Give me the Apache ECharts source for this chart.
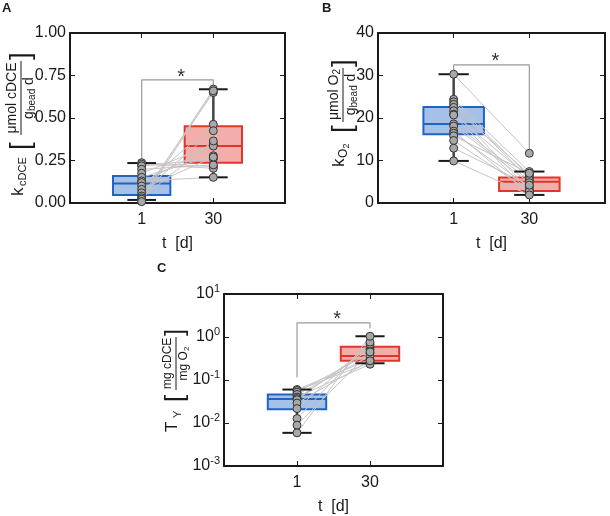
<!DOCTYPE html>
<html><head><meta charset="utf-8">
<script src="https://cdn.jsdelivr.net/npm/echarts@6/dist/echarts.min.js"></script>
<style>html,body{margin:0;padding:0;background:#fff}#c{width:610px;height:516px}</style>
</head><body><div id="c"></div>
<script>
// ---------- data ----------
const tickLabels = ['1', '30'];            // x categories at positions 1 and 2

// Panel A: k_cDCE
const aDay1  = [0.237, 0.228, 0.218, 0.198, 0.175, 0.151, 0.13, 0.12, 0.10, 0.08, 0.06, 0.041, 0.03, 0.022, 0.008];
const aDay30 = [0.214, 0.204, 0.26, 0.224, 0.345, 0.278, 0.151, 0.335, 0.463, 0.27, 0.425, 0.65, 0.365, 0.67, 0.66];
const aBox1  = [0.018, 0.047, 0.114, 0.159, 0.235];   // min, q1, median, q3, max
const aBox30 = [0.151, 0.237, 0.335, 0.451, 0.669];
const aBracket = [0.253, 0.724, 0.675];
const aStar = 0.765;

// Panel B: k_O2
const bDay1  = [30.3, 24.4, 23.8, 23.2, 22.5, 21.7, 20.9, 20.7, 18.6, 18.1, 16.9, 16.4, 15.8, 14.7, 12.9, 9.9];
const bDay30 = [11.7, 7.4, 6.3, 5.7, 6.8, 3.1, 6.0, 2.4, 5.4, 4.8, 2.1, 3.8, 7.0, 2.8, 4.2, 1.9];
const bBox1  = [9.9, 16.2, 18.6, 22.6, 30.3];
const bBox30 = [1.9, 2.8, 5.0, 6.0, 7.4];
const bBracket = [31.3, 32.5, 12.5];
const bStar = 34.4;

// Panel C: T_Y (log)
const cDay1  = [0.060, 0.057, 0.052, 0.046, 0.040, 0.037, 0.0347, 0.029, 0.0216, 0.0127, 0.0089, 0.0059];
const cDay30 = [0.30, 0.255, 0.42, 0.36, 0.233, 0.52, 0.59, 0.28, 0.68, 0.76, 0.45, 1.04];
const cBox1  = [0.0059, 0.021, 0.036, 0.046, 0.060];
const cBox30 = [0.245, 0.28, 0.36, 0.594, 1.04];
const cBracket = [0.115, 2.12, 1.6];
const cStar = 3.3;

// ---------- styling ----------
const FONT = '"Liberation Sans", Arial, Helvetica, sans-serif';
const INK = '#1a1a1a';
const STROKES = ['#1f63c6', '#e3342b'];
const FILLS = ['rgba(31,99,198,0.4)', 'rgba(227,52,43,0.4)'];

const panels = [
  {grid:{left:70, top:33, width:215, height:170},
   y:{type:'value', min:0, max:1, interval:0.25}, fmt:v => v.toFixed(2),
   d1:aDay1, d30:aDay30, b1:aBox1, b30:aBox30, br:aBracket, star:aStar},
  {grid:{left:378, top:33, width:227, height:170},
   y:{type:'value', min:0, max:40, interval:10}, fmt:v => String(v),
   d1:bDay1, d30:bDay30, b1:bBox1, b30:bBox30, br:bBracket, star:bStar},
  {grid:{left:224, top:294, width:219, height:174},
   y:{type:'log', logBase:10, min:0.001, max:10}, fmt:v => '10{s|' + Math.round(Math.log10(v)) + '}',
   d1:cDay1, d30:cDay30, b1:cBox1, b30:cBox30, br:cBracket, star:cStar}
];

function renderBox(params, api) {
  const i = params.dataIndex;
  const x = api.value(0);
  const a = api.coord([x - 0.4, api.value(4)]);
  const b = api.coord([x + 0.4, api.value(2)]);
  const m = api.coord([x, api.value(3)]);
  return {type:'group', children:[
    {type:'rect', shape:{x:a[0], y:a[1], width:b[0]-a[0], height:b[1]-a[1]},
     style:{fill:FILLS[i], stroke:STROKES[i], lineWidth:2}},
    {type:'line', shape:{x1:a[0], y1:m[1], x2:b[0], y2:m[1]}, style:{stroke:STROKES[i], lineWidth:2}}
  ]};
}
function renderWhisker(params, api) {
  const x = api.value(0);
  const lo = api.coord([x, api.value(1)]), q1 = api.coord([x, api.value(2)]);
  const q3 = api.coord([x, api.value(4)]), hi = api.coord([x, api.value(5)]);
  const xl = api.coord([x - 0.2, api.value(1)])[0], xr = api.coord([x + 0.2, api.value(1)])[0];
  return {type:'group', children:[
    {type:'line', shape:{x1:lo[0], y1:lo[1], x2:q1[0], y2:q1[1]}, style:{stroke:'#444', lineWidth:2.5}},
    {type:'line', shape:{x1:q3[0], y1:q3[1], x2:hi[0], y2:hi[1]}, style:{stroke:'#444', lineWidth:2.5}},
    {type:'line', shape:{x1:xl, y1:lo[1], x2:xr, y2:lo[1]}, style:{stroke:INK, lineWidth:2}},
    {type:'line', shape:{x1:xl, y1:hi[1], x2:xr, y2:hi[1]}, style:{stroke:INK, lineWidth:2}}
  ]};
}
function renderPair(params, api) {
  const p = api.coord([api.value(0), api.value(1)]);
  const q = api.coord([api.value(2), api.value(3)]);
  return {type:'line', shape:{x1:p[0], y1:p[1], x2:q[0], y2:q[1]}, style:{stroke:'#c4c4c4', lineWidth:1}};
}
function renderStar(params, api) {
  const p = api.coord([api.value(0), api.value(1)]);
  return {type:'text', x:p[0], y:p[1] + 5,
    style:{text:'*', fill:'#333', font:'20px ' + FONT, textAlign:'center', textVerticalAlign:'middle', align:'center', verticalAlign:'middle'}};
}

const option = {animation:false, grid:[], xAxis:[], yAxis:[], series:[], graphic:[]};
const lineStyle = {color:INK, width:2};
const tickStyle = {show:true, inside:true, length:5, lineStyle:{color:INK, width:1}};

panels.forEach((p, i) => {
  option.grid.push(p.grid);
  const xBase = {type:'value', min:0, max:3, interval:1, gridIndex:i,
    axisLine:{show:true, onZero:false, lineStyle}, axisTick:tickStyle, splitLine:{show:false}};
  option.xAxis.push(Object.assign({}, xBase, {position:'bottom',
    axisLabel:{fontSize:16, color:INK, margin:9, fontFamily:FONT, formatter:v => tickLabels[v - 1] || ''},
    name:'t  [d]', nameLocation:'middle', nameGap:33,
    nameTextStyle:{fontSize:16, color:INK, fontFamily:FONT}}));
  option.xAxis.push(Object.assign({}, xBase, {position:'top', axisLabel:{show:false}}));
  const yBase = Object.assign({gridIndex:i, axisLine:{show:true, onZero:false, lineStyle},
    axisTick:tickStyle, splitLine:{show:false}, minorTick:{show:false}}, p.y);
  option.yAxis.push(Object.assign({}, yBase, {position:'left',
    axisLabel:{fontSize:16, color:INK, margin:4, fontFamily:FONT, formatter:p.fmt,
      rich:{s:{fontSize:11, color:INK, fontFamily:FONT, padding:[0,0,11,0]}}}}));
  option.yAxis.push(Object.assign({}, yBase, {position:'right', axisLabel:{show:false}}));

  const ax = {xAxisIndex:2*i, yAxisIndex:2*i};
  option.series.push(Object.assign({type:'custom', z:2, renderItem:renderBox,
    encode:{x:0, y:[1,2,3,4,5]}, data:[[1].concat(p.b1), [2].concat(p.b30)]}, ax));
  option.series.push(Object.assign({type:'custom', z:3, renderItem:renderPair,
    encode:{x:[0,2], y:[1,3]}, data:p.d1.map((v, k) => [1, v, 2, p.d30[k]])}, ax));
  option.series.push(Object.assign({type:'line', z:3, showSymbol:false, silent:true,
    lineStyle:{color:'#9a9a9a', width:1.2},
    data:[[1, p.br[0]], [1, p.br[1]], [2, p.br[1]], [2, p.br[2]]]}, ax));
  option.series.push(Object.assign({type:'custom', z:4, renderItem:renderWhisker,
    encode:{x:0, y:[1,2,3,4,5]}, data:[[1].concat(p.b1), [2].concat(p.b30)]}, ax));
  option.series.push(Object.assign({type:'scatter', z:5, symbol:'circle', symbolSize:8,
    itemStyle:{color:'#a8a8a8', borderColor:'#333', borderWidth:1, opacity:1},
    data:p.d1.map(v => [1, v]).concat(p.d30.map(v => [2, v]))}, ax));
  option.series.push(Object.assign({type:'custom', z:5, renderItem:renderStar,
    encode:{x:0, y:1}, data:[[1.55, p.star]]}, ax));
});

// ---------- rotated y-axis titles and panel letters ----------
function txt(t, x, y, size) {
  return {type:'text', x, y, style:{text:t, font:size + 'px ' + FONT, fill:INK,
    textAlign:'left', textVerticalAlign:'middle', align:'left', verticalAlign:'middle'}};
}
function title(x, y, parts, bar) {
  return {type:'group', x, y, rotation:Math.PI/2,
    children:parts.map(q => txt(q[0], q[1], q[2], q[3])).concat([
      {type:'line', shape:{x1:bar[0], y1:0, x2:bar[1], y2:0}, style:{stroke:INK, lineWidth:1}}])};
}
option.graphic = [
  title(21, 124, [
    ['k', -72, -3, 17], ['cDCE', -62, 2, 11], ['[', -26, 0, 28],
    ['\u03bcmol cDCE', -9.5, -9, 14],
    ['g', 5, 8, 14], ['bead', 13, 11, 10], ['d', 39, 8, 14],
    [']', 64, 0, 28]], [-11, 63]),
  title(343, 113, [
    ['k', -54, -4, 17], ['O', -45, 1, 12], ['2', -35.5, 4, 9], ['[', -20, 0, 28],
    ['\u03bcmol O', -7, -9, 14], ['2', 38.4, -6, 10],
    ['g', -2.3, 8, 14], ['bead', 5.5, 11, 10], ['d', 31.6, 8, 14],
    [']', 46, 0, 28]], [-9, 45]),
  title(176, 378, [
    ['T', -54, -4, 17], ['Y', -40, 2, 11], ['[', -24, 0, 26],
    ['mg cDCE', -11, -8, 12],
    ['mg O', -2.4, 8, 12], ['2', 27, 11, 8],
    [']', 42, 0, 26]], [-12, 41]),
  {type:'text', x:2, y:8, style:{text:'A', font:'bold 13px ' + FONT, fill:INK, textVerticalAlign:'middle', verticalAlign:'middle'}},
  {type:'text', x:322, y:8, style:{text:'B', font:'bold 13px ' + FONT, fill:INK, textVerticalAlign:'middle', verticalAlign:'middle'}},
  {type:'text', x:157, y:268, style:{text:'C', font:'bold 13px ' + FONT, fill:INK, textVerticalAlign:'middle', verticalAlign:'middle'}}
];

const chart = echarts.init(document.getElementById('c'), null, {renderer:'canvas'});
chart.setOption(option);
</script>
</body></html>
